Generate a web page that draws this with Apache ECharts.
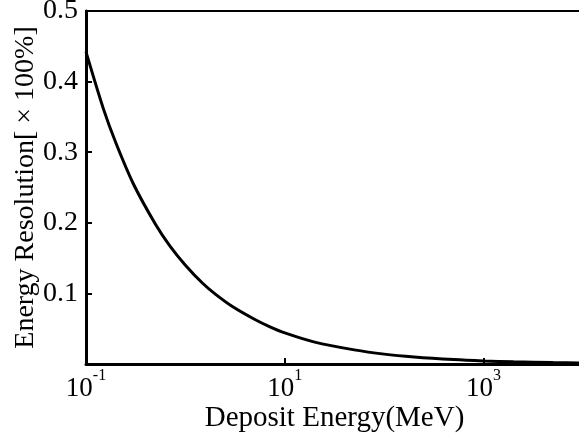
<!DOCTYPE html>
<html><head><meta charset="utf-8">
<script src="https://cdn.jsdelivr.net/npm/echarts@6/dist/echarts.min.js"></script>
<style>html,body{margin:0;padding:0;background:#fff}#c{width:579px;height:440px}</style>
</head><body><div id="c"></div>
<script>
var energies = [0.1, 0.15, 0.2, 0.3, 0.5, 0.7, 1, 1.5, 2, 3, 5, 7, 10, 20, 50, 100, 200, 500, 1000, 2000, 5000, 10000];
var resolution = [0.442, 0.361, 0.313, 0.255, 0.198, 0.167, 0.140, 0.114, 0.099, 0.081, 0.063, 0.053, 0.044, 0.031, 0.020, 0.014, 0.010, 0.0063, 0.0044, 0.0031, 0.0020, 0.0014];
var yTicks = [0.1, 0.2, 0.3, 0.4, 0.5];
var xTickExponents = [-1, 1, 3];
var xLabel = 'Deposit Energy(MeV)';
var yLabel = 'Energy Resolution[ \u00d7 100%]';

var FONT = '"Liberation Serif", "Times New Roman", serif';
var chart = echarts.init(document.getElementById('c'), null, {renderer: 'canvas'});
chart.setOption({
  animation: false,
  backgroundColor: '#fff',
  grid: {left: 86, top: 11, right: -4, bottom: 76, outerBoundsMode: 'none', containLabel: false,
         show: true, borderColor: '#000', borderWidth: 2, backgroundColor: 'transparent'},
  xAxis: {
    type: 'log', logBase: 10, min: 0.1, max: 10000, interval: 2,
    name: xLabel, nameLocation: 'middle', nameGap: 40, nameMoveOverlap: false,
    nameTextStyle: {fontFamily: FONT, fontSize: 29, color: '#000'},
    axisLine: {show: true, onZero: false, lineStyle: {color: '#000', width: 3}},
    axisTick: {show: true, inside: true, length: 6, lineStyle: {color: '#000', width: 2}},
    minorTick: {show: false},
    splitLine: {show: false},
    axisLabel: {
      margin: 4, fontFamily: FONT, fontSize: 27, color: '#000',
      formatter: function (v) {
        var e = Math.round(Math.log10(v));
        if (xTickExponents.indexOf(e) < 0) return '';
        return '{b|10}{s|' + e + '}';
      },
      rich: {
        b: {fontFamily: FONT, fontSize: 27, color: '#000', verticalAlign: 'bottom'},
        s: {fontFamily: FONT, fontSize: 16, color: '#000', verticalAlign: 'top', padding: [0, 0, 18, 0]}
      }
    }
  },
  yAxis: {
    type: 'value', min: 0, max: 0.5, interval: 0.1,
    name: yLabel, nameLocation: 'middle', nameGap: 46, nameMoveOverlap: false,
    nameTextStyle: {fontFamily: FONT, fontSize: 28, color: '#000'},
    axisLine: {show: true, lineStyle: {color: '#000', width: 3}},
    axisTick: {show: true, inside: true, length: 6, lineStyle: {color: '#000', width: 2}},
    splitLine: {show: false},
    axisLabel: {
      margin: 8, fontFamily: FONT, fontSize: 28, color: '#000',
      formatter: function (v) { return v > 0 && yTicks.indexOf(Math.round(v * 10) / 10) >= 0 ? v.toFixed(1) : ''; }
    }
  },
  series: [{
    type: 'line', showSymbol: false, smooth: 0.3,
    data: energies.map(function (e, i) { return [e, resolution[i]]; }),
    lineStyle: {color: '#000', width: 3},
    itemStyle: {color: '#000'}
  }]
});
</script></body></html>
